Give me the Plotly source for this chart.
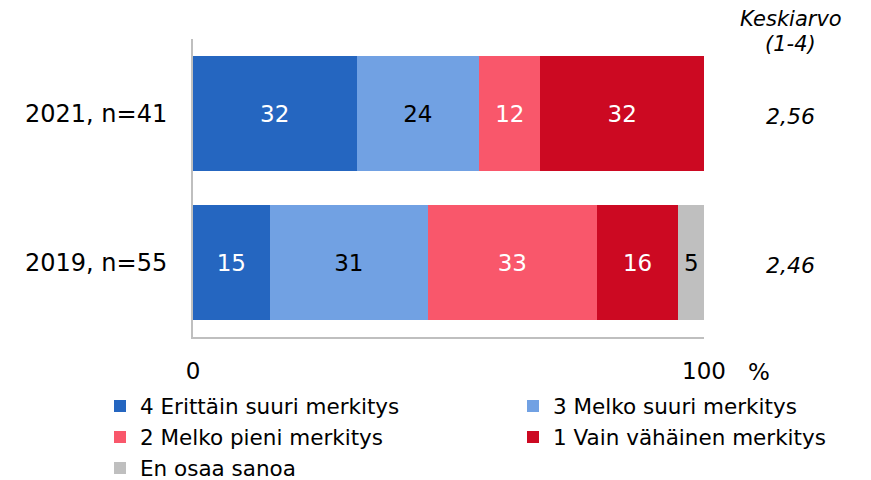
import plotly.graph_objects as go

categories = ["2021, n=41", "2019, n=55"]
series_names = ["4 Erittäin suuri merkitys", "3 Melko suuri merkitys",
                "2 Melko pieni merkitys", "1 Vain vähäinen merkitys", "En osaa sanoa"]
values = {
    "4 Erittäin suuri merkitys": [32, 15],
    "3 Melko suuri merkitys": [24, 31],
    "2 Melko pieni merkitys": [12, 33],
    "1 Vain vähäinen merkitys": [32, 16],
    "En osaa sanoa": [0, 5],
}
means = [2.56, 2.46]
x_tick_vals = [0, 100]
x_tick_text = ["0", "100"]

colors = ["#2566C0", "#71A1E3", "#F9576B", "#CC0922", "#BFBFBF"]
label_colors = ["white", "black", "white", "white", "black"]
legend_ids = ["legend", "legend2", "legend", "legend2", "legend"]

FONT = "DejaVu Sans, Verdana, sans-serif"

# The page body has an 8px margin; figure is sized so it fills the 871x480 window.
OFF = 8
W, H = 871 - OFF, 480 - OFF
# plot area geometry in window pixels
L, R, T, B = 193, 704, 39, 337
PW, PH = R - L, B - T


def px_x(px):
    return (px - L) / PW


def px_y(py):
    return (B - py) / PH


fig = go.Figure()
for name, col, lc, lg in zip(series_names, colors, label_colors, legend_ids):
    vals = values[name]
    fig.add_trace(go.Bar(
        y=categories, x=vals, name=name, orientation="h",
        marker=dict(color=col, line=dict(width=0)),
        text=[str(v) if v else "" for v in vals],
        textposition="inside", insidetextanchor="middle",
        textfont=dict(color=lc, size=23, family=FONT),
        width=0.77, legend=lg, hoverinfo="skip",
    ))

for cat, m in zip(categories, means):
    fig.add_annotation(x=px_x(790.7), y=cat, xref="paper", yref="y",
                       text="<i>" + f"{m:.2f}".replace(".", ",") + "</i>",
                       showarrow=False, font=dict(size=22, family=FONT, color="black"),
                       xanchor="center", yanchor="middle", yshift=-3)

fig.add_annotation(x=px_x(790.5), y=px_y(19), xref="paper", yref="paper", yanchor="middle",
                   xanchor="center", text="<i>Keskiarvo</i>", showarrow=False, borderpad=0,
                   font=dict(size=21, family=FONT, color="black"))
fig.add_annotation(x=px_x(790.5), y=px_y(43.5), xref="paper", yref="paper", yanchor="middle",
                   xanchor="center", text="<i>(1-4)</i>", showarrow=False, borderpad=0,
                   font=dict(size=21, family=FONT, color="black"))
fig.add_annotation(x=px_x(759), y=px_y(371.7), xref="paper", yref="paper", yanchor="middle",
                   xanchor="center", text="%", showarrow=False,
                   font=dict(size=23, family=FONT, color="black"))

fig.update_layout(
    width=W, height=H,
    margin=dict(l=L - OFF, r=871 - R, t=T - OFF, b=480 - B, pad=0, autoexpand=False),
    barmode="stack", bargap=0.23,
    plot_bgcolor="white", paper_bgcolor="white",
    font=dict(family=FONT, size=23, color="black"),
    xaxis=dict(range=[0, 100], tickvals=x_tick_vals, ticktext=x_tick_text,
               showgrid=False, zeroline=False, showline=True, linecolor="#BFBFBF",
               linewidth=2, ticks="", ticklabelstandoff=12,
               tickfont=dict(size=23, family=FONT, color="black")),
    yaxis=dict(categoryorder="array", categoryarray=categories[::-1], range=[-0.5, 1.5],
               showgrid=False, zeroline=False, showline=True, linecolor="#BFBFBF",
               linewidth=2, ticks="", ticklabelstandoff=19,
               tickfont=dict(size=24, family=FONT, color="black")),
    legend=dict(orientation="v", x=px_x(100), y=px_y(385.5), xanchor="left", yanchor="top",
                font=dict(size=21.5, family=FONT, color="black"), traceorder="normal",
                bgcolor="rgba(0,0,0,0)", tracegroupgap=0),
    legend2=dict(orientation="v", x=px_x(513), y=px_y(385.5), xanchor="left", yanchor="top",
                 font=dict(size=21.5, family=FONT, color="black"), traceorder="normal",
                 bgcolor="rgba(0,0,0,0)", tracegroupgap=0),
    showlegend=True,
)

fig.write_html("out.html")
